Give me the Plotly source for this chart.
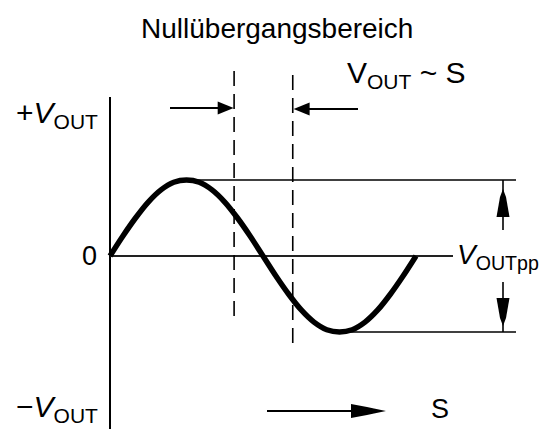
import plotly.graph_objects as go

# ---- data (S in degrees, V normalised to peak amplitude) ----
S_DEG = [0, 15, 30, 45, 60, 75, 90, 105, 120, 135, 150, 165, 180,
         195, 210, 225, 240, 255, 270, 285, 300, 315, 330, 345, 360]
V_OUT = [0, 0.26, 0.50, 0.71, 0.87, 0.97, 1.00, 0.97, 0.87, 0.71, 0.50, 0.26, 0,
         -0.26, -0.50, -0.71, -0.87, -0.97, -1.00, -0.97, -0.87, -0.71, -0.50, -0.26, 0]
ZERO_ZONE = [146, 215]          # S limits of the zero-crossing zone (dashed lines)
TITLE = "Nullübergangsbereich"

V_PEAK = max(V_OUT)
V_TROUGH = min(V_OUT)
S_PEAK = S_DEG[V_OUT.index(V_PEAK)]
S_TROUGH = S_DEG[V_OUT.index(V_TROUGH)]

# page layout helpers (decoration placement only)
S_ORIGIN_PX, S_PX_PER_UNIT = 110, 0.85
V_ORIGIN_PX, V_PX_PER_UNIT = 256, 76
def X(px):
    return (px - S_ORIGIN_PX) / S_PX_PER_UNIT
def Y(py):
    return (V_ORIGIN_PX - py) / V_PX_PER_UNIT

BLACK = "#000000"
ARIAL = "Liberation Sans, Arial, sans-serif"

fig = go.Figure()
fig.add_trace(go.Scatter(x=S_DEG, y=V_OUT, mode="lines",
                         line=dict(color=BLACK, width=5.5, shape="spline"),
                         hoverinfo="skip", showlegend=False))

shapes = []
def line(x0, y0, x1, y1, width=1.8, dash="solid", color=BLACK):
    shapes.append(dict(type="line", xref="x", yref="y", x0=x0, y0=y0, x1=x1, y1=y1,
                       line=dict(color=color, width=width, dash=dash), layer="below"))

def head(x, y, path):
    shapes.append(dict(type="path", xref="x", yref="y", xsizemode="pixel", ysizemode="pixel",
                       xanchor=x, yanchor=y, path=path, fillcolor=BLACK,
                       line=dict(width=0), layer="above"))

# axes
line(0, Y(97), 0, Y(432), width=2)
line(0, 0, X(453), 0, width=1.8, color="#222222")
# amplitude reference lines
line(S_PEAK, V_PEAK, X(516), V_PEAK, width=1.6)
line(S_TROUGH, V_TROUGH, X(516), V_TROUGH, width=1.6)
# zero-crossing zone
line(ZERO_ZONE[0], Y(71), ZERO_ZONE[0], Y(323), width=1.6, dash="15px,8px")
line(ZERO_ZONE[1], Y(75), ZERO_ZONE[1], Y(348), width=1.6, dash="15px,8px")
# horizontal arrows into the zone
line(X(170), Y(108), ZERO_ZONE[0] - 8, Y(108), width=1.8)
head(ZERO_ZONE[0] - 0.5, Y(108), "M0,0 L-16,6.5 L-16,-6.5 Z")
line(X(358), Y(109), ZERO_ZONE[1] + 8, Y(109), width=1.8)
head(ZERO_ZONE[1] + 1, Y(109), "M0,0 L16,6.5 L16,-6.5 Z")
# V_OUTpp double arrow
S_PP = X(503)
line(S_PP, V_PEAK, S_PP, Y(230), width=1.6)
head(S_PP, Y(189), "M0,0 L-3,-8 L-6.5,-28 L6.5,-28 L3,-8 Z")
line(S_PP, V_TROUGH, S_PP, Y(282), width=1.6)
head(S_PP, Y(326), "M0,0 L-3,8 L-6.5,28 L6.5,28 L3,8 Z")
# S direction arrow
line(X(267), Y(411), X(360), Y(411), width=1.8)
head(X(386), Y(411), "M0,0 L-12,2.5 L-19,4 L-35,7 L-35,-7 L-19,-4 L-12,-2.5 Z")

ann = []
def txt(px, py, text, size, xanchor="center"):
    ann.append(dict(x=X(px), y=Y(py), xref="x", yref="y", text=text, showarrow=False,
                    font=dict(family=ARIAL, size=size, color=BLACK),
                    xanchor=xanchor, yanchor="middle", borderpad=0))

txt(277, 28, TITLE, 28)
txt(406, 74, "V<sub>OUT</sub> ~ S", 30)
txt(440, 409, "S", 27)
txt(89, 256, "0", 27)
txt(99, 114, "+<i>V</i><sub>OUT</sub>", 30, "right")
txt(99, 408, "\u2212<i>V</i><sub>OUT</sub>", 30, "right")
txt(456, 256, "<i>V</i><sub>OUTpp</sub>", 28, "left")

fig.update_layout(
    width=549, height=429, margin=dict(l=0, r=0, t=0, b=0),
    paper_bgcolor="white", plot_bgcolor="white",
    xaxis=dict(range=[X(0), X(549)], visible=False, fixedrange=True),
    yaxis=dict(range=[Y(429), Y(0)], visible=False, fixedrange=True),
    shapes=shapes, annotations=ann, showlegend=False,
)
fig.write_html("out.html", config={"displayModeBar": False},
               post_script="document.body.style.margin='0';document.body.style.overflow='hidden';")
